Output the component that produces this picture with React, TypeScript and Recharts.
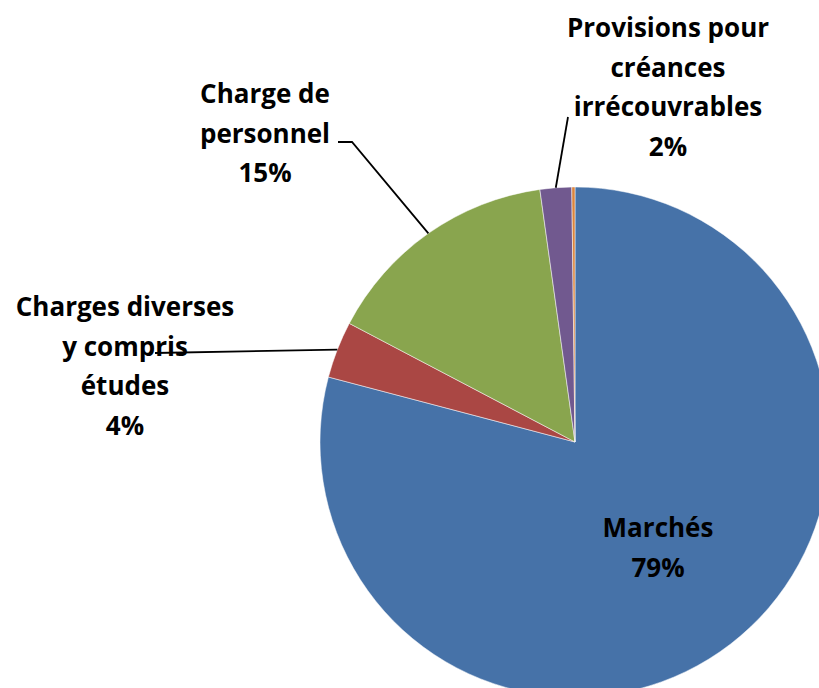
import { PieChart, Pie, Cell } from "recharts";

const categories = [
  "Marchés",
  "Charges diverses y compris études",
  "Charge de personnel",
  "Provisions pour créances irrécouvrables",
  "Autres",
];
const shares = [79.1, 3.6, 15.1, 2.0, 0.2];
const labelRows = [
  ["Marchés"],
  ["Charges diverses", "y compris", "études"],
  ["Charge de", "personnel"],
  ["Provisions pour", "créances", "irrécouvrables"],
  [],
];
const colors = ["#4672A8", "#AA4744", "#89A54E", "#71598F", "#DB843D"];

const data = categories.map((name, i) => ({ name, value: shares[i] }));

// where each label block sits, and the elbow points of its leader line
const labelLayout: { x: number; y: number; leader: [number, number][] }[] = [
  { x: 658, y: 537, leader: [] },
  { x: 125, y: 316, leader: [[155, 353]] },
  { x: 265, y: 103, leader: [[352, 142], [338, 142]] },
  { x: 668, y: 37, leader: [[568, 117]] },
  { x: 0, y: 0, leader: [] },
];

const RAD = Math.PI / 180;
const LINE_H = 39.5;

const renderLabel = (props: any) => {
  const { cx, cy, midAngle, outerRadius, index, percent } = props;
  const rows = labelRows[index];
  if (!rows || rows.length === 0) return null;
  const lay = labelLayout[index];
  const sx = cx + outerRadius * Math.cos(-midAngle * RAD);
  const sy = cy + outerRadius * Math.sin(-midAngle * RAD);
  const pts = lay.leader.length ? [[sx, sy], ...lay.leader] : [];
  const all = [...rows, `${Math.round(percent * 100)}%`];
  return (
    <g>
      {pts.length > 1 && (
        <polyline
          points={pts.map((p) => p.join(",")).join(" ")}
          fill="none"
          stroke="#000"
          strokeWidth={1.8}
        />
      )}
      <text
        x={lay.x}
        y={lay.y}
        textAnchor="middle"
        fill="#000"
        style={{ fontFamily: "'Open Sans', sans-serif", fontWeight: 700, fontSize: 26 }}
      >
        {all.map((t, k) => (
          <tspan key={k} x={lay.x} y={lay.y + k * LINE_H}>
            {t}
          </tspan>
        ))}
      </text>
    </g>
  );
};

export default function App() {
  return (
    <div style={{ position: "absolute", left: 0, top: 0, width: 819, height: 688, background: "#fff" }}>
      <PieChart width={819} height={688} margin={{ top: 0, right: 0, bottom: 0, left: 0 }}>
        <Pie
          data={data}
          dataKey="value"
          nameKey="name"
          cx={575}
          cy={442}
          outerRadius={255}
          startAngle={90}
          endAngle={-270}
          stroke="#ffffff"
          strokeWidth={0.5}
          label={renderLabel}
          labelLine={false}
          isAnimationActive={false}
        >
          {data.map((d, i) => (
            <Cell key={d.name} fill={colors[i]} />
          ))}
        </Pie>
      </PieChart>
    </div>
  );
}
